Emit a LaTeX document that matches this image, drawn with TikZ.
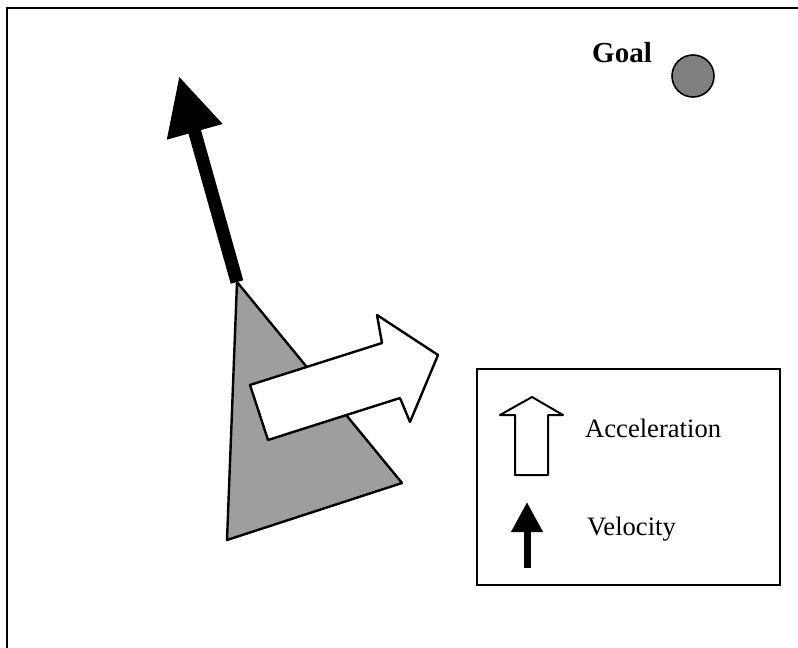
\documentclass[tikz,border=0pt]{standalone}
\usepackage{fontspec}
\setmainfont{Liberation Serif}
\usetikzlibrary{arrows.meta}

\tikzset{
  outline/.style={draw=black, line width=2.4pt, line join=round},
  body/.style={outline, fill=black!38},
  blockarrow/.style={outline, fill=white},
  label/.style={inner sep=0pt, font=\fontsize{26.6}{30}\selectfont},
  velocity/.style={line width=#1, -{Triangle[length=58pt,width=54pt]}},
}

\begin{document}
\begin{tikzpicture}[x=1pt, y=-1pt]
  \useasboundingbox (0,0) rectangle (798,648);

  % outer frame (top and left edges)
  \coordinate (fbl) at (7,648);
  \coordinate (ftl) at (7,8);
  \coordinate (ftr) at (798,8);
  \draw[line width=2.2pt] (fbl) -- (ftl) -- (ftr);

  % goal
  \node[label, font=\fontsize{29}{32}\selectfont\bfseries, anchor=base west] (goal) at (592,62) {Goal};
  \node[circle, draw=black, line width=1.6pt, fill=black!50, minimum size=42pt, inner sep=0pt] (target) at (693,76) {};

  % velocity vector leaving the apex
  \coordinate (vbase) at (237,282);
  \coordinate (vtip) at (179,76);
  \draw[velocity=13pt] (vbase) -- (vtip);

  % robot body
  \coordinate (apex) at (237,282);
  \coordinate (bl) at (227,540);
  \coordinate (br) at (402,483);
  \draw[body] (apex) -- (bl) -- (br) -- cycle;

  % acceleration block arrow
  \draw[blockarrow] (250,385) -- (382,343) -- (377,315) -- (438,355)
    -- (410,422) -- (400,398) -- (268,440) -- cycle;

  % legend
  \node[draw=black, line width=2pt, minimum width=303pt, minimum height=216pt, inner sep=0pt, anchor=north west] (legend) at (476,368) {};
  \draw[blockarrow, line width=2pt] (515,475) -- (515,415) -- (500,415) -- (532,397)
    -- (563,415) -- (548,415) -- (548,475) -- cycle;
  \node[label, anchor=base west] (acc) at (585,437) {Acceleration};

  \coordinate (lvbase) at (527,568);
  \coordinate (lvtip) at (527,502);
  \draw[line width=7pt, -{Triangle[length=30pt,width=30pt]}] (lvbase) -- (lvtip);
  \node[label, anchor=base west] (vel) at (587,535) {Velocity};
\end{tikzpicture}
\end{document}
